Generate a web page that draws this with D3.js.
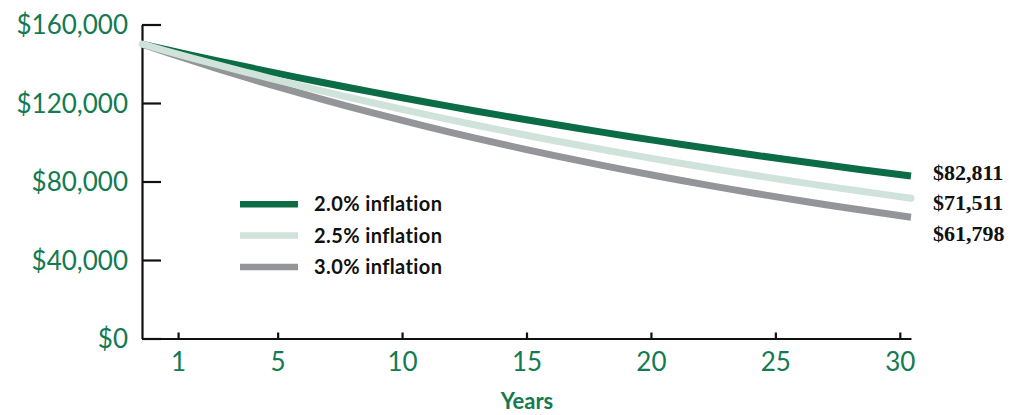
<!DOCTYPE html>
<html>
<head>
<meta charset="utf-8">
<script src="https://cdn.jsdelivr.net/npm/d3@7"></script>
<style>
  html, body { margin: 0; padding: 0; background: #fff; }
  svg { display: block; }
</style>
</head>
<body>
<script>
// Buying power of $150,000 over 30 years at three inflation rates
const years = d3.range(0, 31);

const infl20 = [150000, 147059, 144175, 141348, 138577, 135860, 133196, 130584, 128024, 125514,
  123052, 120640, 118275, 115956, 113682, 111453, 109268, 107125, 105025, 102966,
  100947, 98967, 97027, 95124, 93259, 91431, 89638, 87880, 86157, 84468, 82811];
const infl25 = [150000, 146341, 142772, 139290, 135893, 132578, 129345, 126190, 123113, 120110,
  117180, 114322, 111534, 108814, 106160, 103571, 101045, 98580, 96176, 93830,
  91541, 89309, 87131, 85006, 82933, 80910, 78936, 77011, 75133, 73300, 71511];
const infl30 = [150000, 145631, 141390, 137272, 133273, 129391, 125623, 121964, 118412, 114963,
  111614, 108363, 105207, 102143, 99168, 96280, 93476, 90753, 88110, 85544,
  83052, 80633, 78284, 76004, 73791, 71641, 69555, 67529, 65562, 63652, 61798];

const seriesNames = ["2.0% inflation", "2.5% inflation", "3.0% inflation"];
const endLabels = ["$82,811", "$71,511", "$61,798"];
const yTicks = [0, 40000, 80000, 120000, 160000];
const xTicks = [1, 5, 10, 15, 20, 25, 30];

const W = 1021, H = 415;
const GREEN_TXT = "#137a52";
const colors = ["#0b6c45", "#cfe3da", "#939598"];

const svg = d3.select("body").append("svg").attr("width", W).attr("height", H);

const y = d3.scaleLinear().domain([0, 160000]).range([338.5, 24.5]);
const xAxisScale = d3.scaleLinear().domain([-0.45, 30.45]).range([142, 911]);
const xLine = d3.scaleLinear().domain([0, 30]).range([142, 911]);

// y axis
const yAxis = svg.append("g")
  .attr("transform", `translate(${xAxisScale.range()[0]},0)`)
  .call(d3.axisLeft(y).tickValues(yTicks).tickSizeInner(-19).tickSizeOuter(0).tickPadding(14)
    .tickFormat(d => "$" + d3.format(",")(d)));
yAxis.select(".domain").attr("stroke", "#111").attr("stroke-width", 2.2);
yAxis.selectAll(".tick line").attr("stroke", "#111").attr("stroke-width", 2.2);
yAxis.selectAll("text")
  .attr("fill", GREEN_TXT)
  .attr("font-family", "Lato, sans-serif")
  .attr("font-size", 26)
  .attr("dy", "0.36em");

// x axis
const xAxis = svg.append("g")
  .attr("transform", `translate(0,${y(0)})`)
  .call(d3.axisBottom(xAxisScale).tickValues(xTicks).tickSizeInner(-6).tickSizeOuter(0).tickPadding(14));
xAxis.select(".domain").attr("stroke", "#111").attr("stroke-width", 2.2);
xAxis.selectAll(".tick line").attr("stroke", "#111").attr("stroke-width", 2.2);
xAxis.selectAll("text")
  .attr("fill", GREEN_TXT)
  .attr("font-family", "Lato, sans-serif")
  .attr("font-size", 26);

svg.append("text")
  .attr("x", 527).attr("y", 409)
  .attr("text-anchor", "middle")
  .attr("fill", GREEN_TXT)
  .attr("font-family", "Lato, sans-serif")
  .attr("font-weight", "bold")
  .attr("font-size", 22)
  .text("Years");

// lines (gray, green, then light on top)
const series = [infl20, infl25, infl30];
const line = d3.line().x((d, i) => xLine(years[i])).y(d => y(d)).curve(d3.curveMonotoneX);
[2, 0, 1].forEach(k => {
  svg.append("path")
    .datum(series[k])
    .attr("fill", "none")
    .attr("stroke", colors[k])
    .attr("stroke-width", 7)
    .attr("stroke-linecap", k === 1 ? "round" : "butt")
    .attr("d", line);
});

// legend
seriesNames.forEach((name, i) => {
  const cy = 204.3 + i * 31.3;
  svg.append("line")
    .attr("x1", 240).attr("x2", 298)
    .attr("y1", cy).attr("y2", cy)
    .attr("stroke", colors[i]).attr("stroke-width", 6.5);
  svg.append("text")
    .attr("x", 314).attr("y", cy + 7)
    .attr("fill", "#111")
    .attr("font-family", "Lato, sans-serif")
    .attr("font-weight", "bold")
    .attr("font-size", 20)
    .attr("letter-spacing", 0.4)
    .text(name);
});

// end values
endLabels.forEach((t, i) => {
  svg.append("text")
    .attr("x", xLine(30) + 22).attr("y", 180 + i * 30.3)
    .attr("fill", "#111")
    .attr("font-family", "'Liberation Serif', serif")
    .attr("font-weight", "bold")
    .attr("font-size", 22)
    .text(t);
});
</script>
</body>
</html>
